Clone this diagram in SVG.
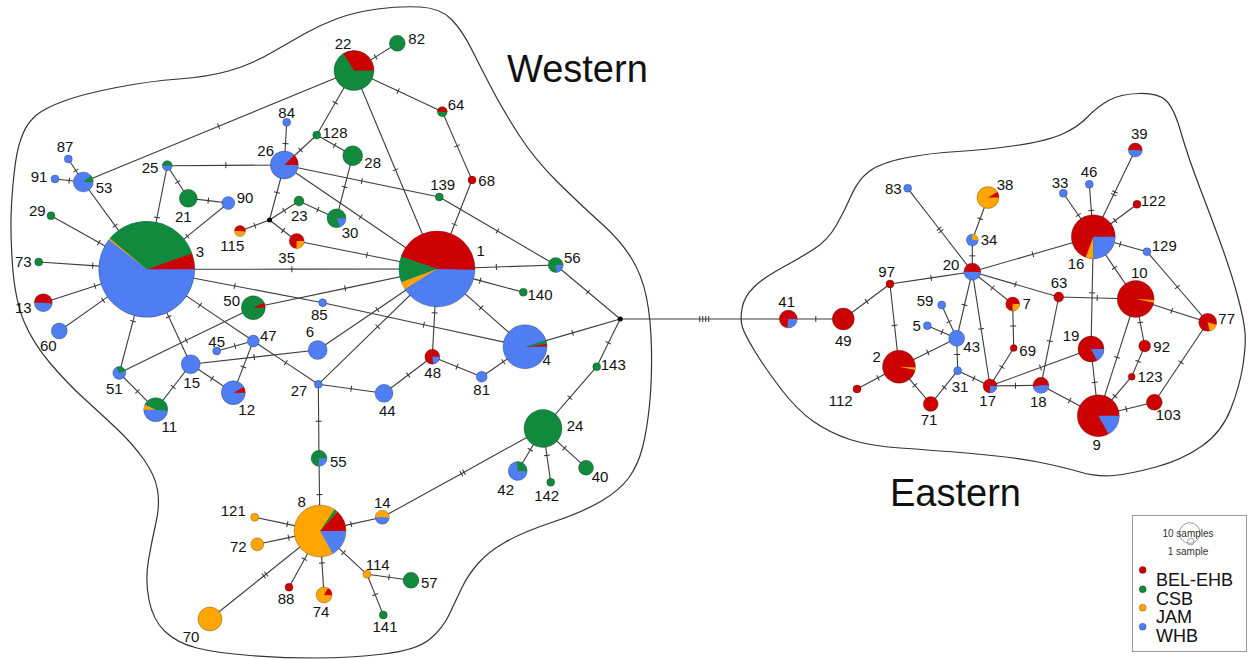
<svg xmlns="http://www.w3.org/2000/svg" width="1249" height="659" viewBox="0 0 1249 659">
<style>
.bd{fill:none;stroke:#333;stroke-width:1.2}
.e{fill:none;stroke:#3c3c3c;stroke-width:1.1;marker-mid:url(#t1)}
.e2{marker-mid:url(#t2)}
.e4{marker-mid:url(#t4)}
.R{fill:#cc0000}.G{fill:#118a3d}.O{fill:#ffa500}.B{fill:#4f7df2}.K{fill:#000}
circle.R,circle.G,circle.O,circle.B{stroke:#000;stroke-opacity:.35;stroke-width:.7}
.wR{fill:none;stroke:#cc0000}.wG{fill:none;stroke:#118a3d}.wO{fill:none;stroke:#ffa500}.wB{fill:none;stroke:#4f7df2}
text{font-family:"Liberation Sans",Arial,sans-serif;fill:#111}
.l{font-size:15px;text-anchor:middle}
.reg{font-size:38px}
.lg{font-size:18px}
.ls{font-size:10px;text-anchor:middle;fill:#333}
</style>
<defs>
<marker id="t1" viewBox="-6 -6 12 12" markerWidth="12" markerHeight="12" markerUnits="userSpaceOnUse" orient="auto"><path d="M0,-3V3" stroke="#333" stroke-width="1"/></marker>
<marker id="t2" viewBox="-6 -6 12 12" markerWidth="12" markerHeight="12" markerUnits="userSpaceOnUse" orient="auto"><path d="M-1.5,-3V3M1.5,-3V3" stroke="#333" stroke-width="1"/></marker>
<marker id="t4" viewBox="-8 -8 16 16" markerWidth="16" markerHeight="16" markerUnits="userSpaceOnUse" orient="auto"><path d="M-4.5,-3V3M-1.5,-3V3M1.5,-3V3M4.5,-3V3" stroke="#333" stroke-width="1"/></marker>
</defs>
<rect width="1249" height="659" fill="#fff"/>
<g id="regions">
<path class="bd" d="M 451,19 Q 462,30 472,50 Q 482,70 492.5,90 Q 503,110 519,135 Q 535,160 559,183.5 Q 583,207 601.5,223.5 Q 620,240 631,257.5 Q 642,275 646.5,297.5 Q 651,320 651.5,350 Q 652,380 649.5,405 Q 647,430 642.5,447.5 Q 638,465 629,477.5 Q 620,490 601.5,501 Q 583,512 553,522 Q 523,532 505.5,542 Q 488,552 478,563.5 Q 468,575 462,587.5 Q 456,600 449.5,614 Q 443,628 430,639 Q 417,650 383.5,654 Q 350,658 316.5,658 Q 283,658 250,655.5 Q 217,653 197,648 Q 177,643 165,631.5 Q 153,620 149,600 Q 145,580 148.5,560 Q 152,540 156,522.5 Q 160,505 157.5,490 Q 155,475 143.5,459 Q 132,443 116,428 Q 100,413 83.5,398 Q 67,383 50,363 Q 33,343 24,321.5 Q 15,300 12.5,265 Q 10,230 11.5,205 Q 13,180 15.5,162.5 Q 18,145 23,133.5 Q 28,122 36.5,115 Q 45,108 64,101 Q 83,94 116.5,87.5 Q 150,81 178.5,79 Q 207,77 228.5,71 Q 250,65 270,53.5 Q 290,42 305,33.5 Q 320,25 337.5,18.5 Q 355,12 377.5,9 Q 400,6 420,7 Q 440,8 451,19 Z"/>
<path class="bd" d="M 742,308.5 Q 744,297 753.5,287.5 Q 763,278 781.5,268 Q 800,258 814,249 Q 828,240 836.5,225 Q 845,210 851.5,195 Q 858,180 869,171.5 Q 880,163 905,158 Q 930,153 957.5,151.5 Q 985,150 1016,145.5 Q 1047,141 1062.5,134 Q 1078,127 1087.5,117 Q 1097,107 1108.5,100.5 Q 1120,94 1139,93.5 Q 1158,93 1166,100.5 Q 1174,108 1181,132.5 Q 1188,157 1200.5,189.5 Q 1213,222 1222.5,248.5 Q 1232,275 1238,297.5 Q 1244,320 1245,332.5 Q 1246,345 1243,365 Q 1240,385 1231,408.5 Q 1222,432 1202,446 Q 1182,460 1156,467 Q 1130,474 1113.5,475.5 Q 1097,477 1080,472 Q 1063,467 1038,462 Q 1013,457 971.5,453.5 Q 930,450 900,448 Q 870,446 850,439.5 Q 830,433 813.5,421.5 Q 797,410 781,389 Q 765,368 755,351.5 Q 745,335 742.5,327.5 Q 740,320 742,308.5 Z"/>
<text class="reg" x="507" y="82">Western</text>
<text class="reg" x="890" y="506">Eastern</text>
</g>
<g id="connectors">
<path class="e" d="M354,70.5L375.65,56.9L397.3,43.3"/>
<path class="e" d="M354,70.5L218.65,126.25L83.3,182"/>
<path class="e" d="M354,70.5L398.15,91.1L442.3,111.7"/>
<path class="e" d="M354,70.5L335.35,102.75L316.7,135"/>
<path class="e" d="M354,70.5L395.5,169.75L437,269"/>
<path class="e" d="M442.3,111.7L457.15,145.85L472,180"/>
<path class="e" d="M472,180L454.5,224.5L437,269"/>
<path class="e" d="M316.7,135L300.5,150L284.3,165"/>
<path class="e" d="M316.7,135L334.7,145.35L352.7,155.7"/>
<path class="e" d="M352.7,155.7L344.6,187L336.5,218.3"/>
<path class="e" d="M284.3,165L285.5,143.65L286.7,122.3"/>
<path class="e" d="M284.3,165L225.8,165.35L167.3,165.7"/>
<path class="e" d="M284.3,165L276.9,192.5L269.5,220"/>
<path class="e" d="M284.3,165L361.8,181L439.3,197"/>
<path class="e" d="M284.3,165L360.65,217L437,269"/>
<path class="e" d="M439.3,197L497.5,231L555.7,265"/>
<path class="e" d="M167.3,165.7L157,217.5L146.7,269.3"/>
<path class="e" d="M167.3,165.7L177.8,182L188.3,198.3"/>
<path class="e" d="M188.3,198.3L208.3,200.65L228.3,203"/>
<path class="e" d="M228.3,203L187.5,236.15L146.7,269.3"/>
<path class="e" d="M68.3,159L75.8,170.5L83.3,182"/>
<path class="e" d="M55,179L69.15,180.5L83.3,182"/>
<path class="e" d="M83.3,182L115,225.65L146.7,269.3"/>
<path class="e" d="M51,215.7L98.85,242.5L146.7,269.3"/>
<path class="e" d="M38.7,262L92.7,265.65L146.7,269.3"/>
<path class="e" d="M43.3,302.7L95,286L146.7,269.3"/>
<path class="e" d="M59.3,331L103,300.15L146.7,269.3"/>
<path class="e" d="M119.3,373L133,321.15L146.7,269.3"/>
<path class="e" d="M190.7,364.3L168.7,316.8L146.7,269.3"/>
<path class="e" d="M146.7,269.3L200,305.15L253.3,341"/>
<path class="e" d="M146.7,269.3L291.85,269.15L437,269"/>
<path class="e" d="M146.7,269.3L234.7,286L322.7,302.7"/>
<path class="e" d="M322.7,302.7L423.85,324.7L525,346.7"/>
<path class="e" d="M253.3,307.7L186.3,340.35L119.3,373"/>
<path class="e" d="M253.3,307.7L345.15,288.35L437,269"/>
<path class="e" d="M119.3,373L137.5,391.35L155.7,409.7"/>
<path class="e" d="M155.7,409.7L173.2,387L190.7,364.3"/>
<path class="e" d="M190.7,364.3L212,378.5L233.3,392.7"/>
<path class="e" d="M190.7,364.3L254.2,357.15L317.7,350"/>
<path class="e" d="M216.7,351L235,346L253.3,341"/>
<path class="e" d="M253.3,341L243.3,366.85L233.3,392.7"/>
<path class="e" d="M253.3,341L285.8,362.65L318.3,384.3"/>
<path class="e" d="M317.7,350L377.35,309.5L437,269"/>
<path class="e" d="M318.3,384.3L377.65,326.65L437,269"/>
<path class="e" d="M318.3,384.3L351.15,388.8L384,393.3"/>
<path class="e" d="M384,393.3L408.15,375L432.3,356.7"/>
<path class="e" d="M432.3,356.7L434.65,312.85L437,269"/>
<path class="e" d="M432.3,356.7L457,366.7L481.7,376.7"/>
<path class="e" d="M481.7,376.7L503.35,361.7L525,346.7"/>
<path class="e" d="M318.3,384.3L318.65,421.3L319,458.3"/>
<path class="e" d="M319,458.3L319.5,494.65L320,531"/>
<path class="e" d="M437,269L496.35,267L555.7,265"/>
<path class="e" d="M437,269L480.15,280.65L523.3,292.3"/>
<path class="e" d="M437,269L481,307.85L525,346.7"/>
<path class="e" d="M296.7,241L366.85,255L437,269"/>
<path class="e" d="M269.5,220L254.75,225.5L240,231"/>
<path class="e" d="M269.5,220L284.25,210.5L299,201"/>
<path class="e" d="M269.5,220L283.1,230.5L296.7,241"/>
<path class="e" d="M299,201L317.75,209.65L336.5,218.3"/>
<path class="e" d="M555.7,265L587.95,292L620.2,319"/>
<path class="e" d="M620.2,319L572.6,332.85L525,346.7"/>
<path class="e" d="M620.2,319L608.45,342.85L596.7,366.7"/>
<path class="e" d="M596.7,366.7L569.85,397.6L543,428.5"/>
<path class="e e4" d="M620.2,319L704.25,319L788.3,319"/>
<path class="e e2" d="M543,428.5L462.65,472.9L382.3,517.3"/>
<path class="e" d="M543,428.5L530.35,449.75L517.7,471"/>
<path class="e" d="M543,428.5L546.85,455.4L550.7,482.3"/>
<path class="e" d="M543,428.5L564.5,448.1L586,467.7"/>
<path class="e" d="M320,531L287.35,524.15L254.7,517.3"/>
<path class="e" d="M320,531L288.65,537.65L257.3,544.3"/>
<path class="e" d="M320,531L351.15,524.15L382.3,517.3"/>
<path class="e" d="M320,531L304.5,559.15L289,587.3"/>
<path class="e" d="M320,531L322,563L324,595"/>
<path class="e" d="M320,531L343.5,552.65L367,574.3"/>
<path class="e e2" d="M320,531L265,575L210,619"/>
<path class="e" d="M367,574.3L389,577.3L411,580.3"/>
<path class="e" d="M367,574.3L375.15,594.65L383.3,615"/>
<path class="e" d="M788.3,319L815.8,319L843.3,319"/>
<path class="e" d="M843.3,319L866.65,301.5L890,284"/>
<path class="e" d="M890,284L931.15,277.85L972.3,271.7"/>
<path class="e" d="M890,284L894.5,325.35L899,366.7"/>
<path class="e e2" d="M907.7,188.3L940,230L972.3,271.7"/>
<path class="e" d="M972.3,271.7L972.3,255.85L972.3,240"/>
<path class="e" d="M972.3,240L980.15,218.75L988,197.5"/>
<path class="e" d="M972.3,271.7L1032.8,254.2L1093.3,236.7"/>
<path class="e" d="M972.3,271.7L992.5,287.85L1012.7,304"/>
<path class="e" d="M972.3,271.7L1015.5,284.35L1058.7,297"/>
<path class="e" d="M972.3,271.7L964.5,305L956.7,338.3"/>
<path class="e" d="M972.3,271.7L981.15,328.85L990,386"/>
<path class="e" d="M956.7,338.3L949.2,321.65L941.7,305"/>
<path class="e" d="M956.7,338.3L942,332L927.3,325.7"/>
<path class="e" d="M956.7,338.3L927.85,352.5L899,366.7"/>
<path class="e" d="M956.7,338.3L957.2,354.5L957.7,370.7"/>
<path class="e" d="M957.7,370.7L944.2,387.35L930.7,404"/>
<path class="e" d="M957.7,370.7L973.85,378.35L990,386"/>
<path class="e" d="M899,366.7L878,377.85L857,389"/>
<path class="e" d="M899,366.7L914.85,385.35L930.7,404"/>
<path class="e" d="M1012.7,304L1013.2,326L1013.7,348"/>
<path class="e" d="M1013.7,348L1001.85,367L990,386"/>
<path class="e" d="M990,386L1015.5,385.65L1041,385.3"/>
<path class="e" d="M990,386L1040.5,367.5L1091,349"/>
<path class="e" d="M1041,385.3L1049.85,341.15L1058.7,297"/>
<path class="e" d="M1041,385.3L1069.65,400.5L1098.3,415.7"/>
<path class="e" d="M1058.7,297L1097.2,298L1135.7,299"/>
<path class="e" d="M1093.3,236.7L1078.3,215L1063.3,193.3"/>
<path class="e" d="M1093.3,236.7L1091.3,210.5L1089.3,184.3"/>
<path class="e e2" d="M1093.3,236.7L1114.3,193.35L1135.3,150"/>
<path class="e" d="M1093.3,236.7L1115.15,220.5L1137,204.3"/>
<path class="e" d="M1093.3,236.7L1120.15,244.2L1147,251.7"/>
<path class="e" d="M1093.3,236.7L1114.5,267.85L1135.7,299"/>
<path class="e" d="M1093.3,236.7L1092.15,292.85L1091,349"/>
<path class="e" d="M1147,251.7L1177.35,287L1207.7,322.3"/>
<path class="e" d="M1135.7,299L1171.7,310.65L1207.7,322.3"/>
<path class="e" d="M1135.7,299L1140.2,322.5L1144.7,346"/>
<path class="e" d="M1135.7,299L1117,357.35L1098.3,415.7"/>
<path class="e" d="M1144.7,346L1138.2,361.35L1131.7,376.7"/>
<path class="e" d="M1131.7,376.7L1115,396.2L1098.3,415.7"/>
<path class="e" d="M1098.3,415.7L1126.3,409L1154.3,402.3"/>
<path class="e" d="M1154.3,402.3L1181,362.3L1207.7,322.3"/>
<path class="e" d="M1091,349L1094.65,382.35L1098.3,415.7"/>
</g>
<g id="nodes">
<g id="n1"><circle cx="437" cy="269" r="38" class="B"/><circle cx="437" cy="269" r="19" stroke-width="38" stroke-dasharray="53.39 999" transform="rotate(-161 437 269)" class="wR"/><circle cx="437" cy="269" r="19" stroke-width="38" stroke-dasharray="12.93 999" transform="rotate(-200 437 269)" class="wG"/><circle cx="437" cy="269" r="19" stroke-width="38" stroke-dasharray="3.98 999" transform="rotate(-212 437 269)" class="wO"/><text class="l" x="480.7" y="255.5">1</text></g>
<g id="n3"><circle cx="146.7" cy="269.3" r="48" class="B"/><circle cx="146.7" cy="269.3" r="24" stroke-width="48" stroke-dasharray="8.38 999" transform="rotate(-20 146.7 269.3)" class="wR"/><circle cx="146.7" cy="269.3" r="24" stroke-width="48" stroke-dasharray="50.27 999" transform="rotate(-140 146.7 269.3)" class="wG"/><circle cx="146.7" cy="269.3" r="24" stroke-width="48" stroke-dasharray="0.84 999" transform="rotate(-142 146.7 269.3)" class="wO"/><text class="l" x="200" y="257.2">3</text></g>
<g id="n22"><circle cx="354" cy="70.5" r="20" class="G"/><circle cx="354" cy="70.5" r="10" stroke-width="20" stroke-dasharray="21.29 999" transform="rotate(-122 354 70.5)" class="wR"/><text class="l" x="343" y="48.5">22</text></g>
<g id="n4"><circle cx="525" cy="346.7" r="22" class="B"/><circle cx="525" cy="346.7" r="11" stroke-width="22" stroke-dasharray="1.54 999" transform="rotate(-8 525 346.7)" class="wR"/><circle cx="525" cy="346.7" r="11" stroke-width="22" stroke-dasharray="1.92 999" transform="rotate(-18 525 346.7)" class="wG"/><text class="l" x="546.7" y="364.8">4</text></g>
<g id="n8"><circle cx="320" cy="531" r="26" class="O"/><circle cx="320" cy="531" r="13" stroke-width="26" stroke-dasharray="10.89 999" transform="rotate(-48 320 531)" class="wR"/><circle cx="320" cy="531" r="13" stroke-width="26" stroke-dasharray="1.82 999" transform="rotate(-56 320 531)" class="wG"/><circle cx="320" cy="531" r="13" stroke-width="26" stroke-dasharray="13.61 999" class="wB"/><text class="l" x="301.7" y="506.5">8</text></g>
<g id="n24"><circle cx="543" cy="428.5" r="19" class="G"/><text class="l" x="575" y="431.2">24</text></g>
<g id="n11"><circle cx="155.7" cy="409.7" r="12" class="B"/><circle cx="155.7" cy="409.7" r="6" stroke-width="12" stroke-dasharray="16.23 999" transform="rotate(-155 155.7 409.7)" class="wG"/><circle cx="155.7" cy="409.7" r="6" stroke-width="12" stroke-dasharray="2.62 999" transform="rotate(-180 155.7 409.7)" class="wO"/><text class="l" x="169.3" y="431.5">11</text></g>
<g id="n12"><circle cx="233.3" cy="392.7" r="12" class="B"/><circle cx="233.3" cy="392.7" r="6" stroke-width="12" stroke-dasharray="2.93 999" transform="rotate(-28 233.3 392.7)" class="wR"/><text class="l" x="246.7" y="414.8">12</text></g>
<g id="n13"><circle cx="43.3" cy="302.7" r="9" class="B"/><circle cx="43.3" cy="302.7" r="4.5" stroke-width="9" stroke-dasharray="14.14 999" transform="rotate(-180 43.3 302.7)" class="wR"/><text class="l" x="23.3" y="312.8">13</text></g>
<g id="n15"><circle cx="190.7" cy="364.3" r="9.5" class="B"/><text class="l" x="191.7" y="388.2">15</text></g>
<g id="n47"><circle cx="253.3" cy="341" r="6" class="B"/><text class="l" x="268.3" y="340.5">47</text></g>
<g id="n45"><circle cx="216.7" cy="351" r="4" class="B"/><text class="l" x="216.7" y="346.5">45</text></g>
<g id="n50"><circle cx="253.3" cy="307.7" r="12" class="G"/><circle cx="253.3" cy="307.7" r="6" stroke-width="12" stroke-dasharray="2.62 999" transform="rotate(-25 253.3 307.7)" class="wR"/><text class="l" x="231.7" y="306.2">50</text></g>
<g id="n51"><circle cx="119.3" cy="373" r="6.5" class="B"/><circle cx="119.3" cy="373" r="3.25" stroke-width="6.5" stroke-dasharray="5.67 999" transform="rotate(-120 119.3 373)" class="wG"/><text class="l" x="114.3" y="393.8">51</text></g>
<g id="n60"><circle cx="59.3" cy="331" r="8" class="B"/><text class="l" x="48.3" y="350.5">60</text></g>
<g id="n73"><circle cx="38.7" cy="262" r="4" class="G"/><text class="l" x="23.3" y="267.2">73</text></g>
<g id="n29"><circle cx="51" cy="215.7" r="4" class="G"/><text class="l" x="37.3" y="215.5">29</text></g>
<g id="n53"><circle cx="83.3" cy="182" r="10" class="B"/><circle cx="83.3" cy="182" r="5" stroke-width="10" stroke-dasharray="3.49 999" transform="rotate(-40 83.3 182)" class="wG"/><text class="l" x="104" y="192.5">53</text></g>
<g id="n87"><circle cx="68.3" cy="159" r="4" class="B"/><text class="l" x="65" y="151.5">87</text></g>
<g id="n91"><circle cx="55" cy="179" r="4" class="B"/><text class="l" x="39" y="181.5">91</text></g>
<g id="n25"><circle cx="167.3" cy="165.7" r="5" class="B"/><circle cx="167.3" cy="165.7" r="2.5" stroke-width="5" stroke-dasharray="7.85 999" transform="rotate(-180 167.3 165.7)" class="wG"/><text class="l" x="150" y="172.5">25</text></g>
<g id="n21"><circle cx="188.3" cy="198.3" r="9" class="G"/><text class="l" x="183.3" y="221.5">21</text></g>
<g id="n90"><circle cx="228.3" cy="203" r="6.5" class="B"/><text class="l" x="245" y="202.5">90</text></g>
<g id="n26"><circle cx="284.3" cy="165" r="14" class="B"/><circle cx="284.3" cy="165" r="7" stroke-width="14" stroke-dasharray="5.5 999" transform="rotate(-45 284.3 165)" class="wR"/><text class="l" x="265.7" y="156.2">26</text></g>
<g id="n84"><circle cx="286.7" cy="122.3" r="4" class="B"/><text class="l" x="286.7" y="117.5">84</text></g>
<g id="n128"><circle cx="316.7" cy="135" r="4" class="G"/><text class="l" x="335" y="137.5">128</text></g>
<g id="n28"><circle cx="352.7" cy="155.7" r="10" class="G"/><text class="l" x="372.7" y="167.5">28</text></g>
<g id="n82"><circle cx="397.3" cy="43.3" r="8" class="G"/><text class="l" x="416.7" y="43.8">82</text></g>
<g id="n64"><circle cx="442.3" cy="111.7" r="5" class="G"/><circle cx="442.3" cy="111.7" r="2.5" stroke-width="5" stroke-dasharray="7.85 999" transform="rotate(-180 442.3 111.7)" class="wR"/><text class="l" x="456" y="109.5">64</text></g>
<g id="n68"><circle cx="472" cy="180" r="4" class="R"/><text class="l" x="486.7" y="185.5">68</text></g>
<g id="n139"><circle cx="439.3" cy="197" r="4" class="G"/><text class="l" x="442.7" y="189.5">139</text></g>
<g id="n30"><circle cx="336.5" cy="218.3" r="9.5" class="G"/><circle cx="336.5" cy="218.3" r="4.75" stroke-width="9.5" stroke-dasharray="5.39 999" class="wB"/><text class="l" x="350" y="238.2">30</text></g>
<g id="n23"><circle cx="299" cy="201" r="5" class="G"/><text class="l" x="299.3" y="220.5">23</text></g>
<g id="jA"><circle cx="269.5" cy="220" r="2.5" class="K"/></g>
<g id="n115"><circle cx="240" cy="231" r="5.5" class="O"/><circle cx="240" cy="231" r="2.75" stroke-width="5.5" stroke-dasharray="8.64 999" transform="rotate(-180 240 231)" class="wR"/><text class="l" x="232.3" y="250.5">115</text></g>
<g id="n35"><circle cx="296.7" cy="241" r="7.5" class="R"/><circle cx="296.7" cy="241" r="3.75" stroke-width="7.5" stroke-dasharray="5.89 999" class="wO"/><text class="l" x="286.7" y="262.8">35</text></g>
<g id="n85"><circle cx="322.7" cy="302.7" r="4" class="B"/><text class="l" x="319.3" y="319.5">85</text></g>
<g id="n6"><circle cx="317.7" cy="350" r="9.5" class="B"/><text class="l" x="310" y="337.2">6</text></g>
<g id="n27"><circle cx="318.3" cy="384.3" r="4" class="B"/><text class="l" x="299" y="395.5">27</text></g>
<g id="n44"><circle cx="384" cy="393.3" r="9" class="B"/><text class="l" x="387.3" y="416.2">44</text></g>
<g id="n48"><circle cx="432.3" cy="356.7" r="7.5" class="R"/><circle cx="432.3" cy="356.7" r="3.75" stroke-width="7.5" stroke-dasharray="5.24 999" class="wB"/><text class="l" x="432.7" y="377.8">48</text></g>
<g id="n81"><circle cx="481.7" cy="376.7" r="5.5" class="B"/><text class="l" x="481.7" y="394.5">81</text></g>
<g id="n56"><circle cx="555.7" cy="265" r="7.5" class="G"/><circle cx="555.7" cy="265" r="3.75" stroke-width="7.5" stroke-dasharray="5.24 999" class="wB"/><text class="l" x="572.3" y="262.8">56</text></g>
<g id="n140"><circle cx="523.3" cy="292.3" r="4" class="G"/><text class="l" x="540" y="299.5">140</text></g>
<g id="jB"><circle cx="620.2" cy="319" r="2.5" class="K"/></g>
<g id="n143"><circle cx="596.7" cy="366.7" r="4" class="G"/><text class="l" x="613.3" y="369.8">143</text></g>
<g id="n55"><circle cx="319" cy="458.3" r="8" class="G"/><circle cx="319" cy="458.3" r="4" stroke-width="8" stroke-dasharray="6.28 999" class="wB"/><text class="l" x="338.3" y="467.2">55</text></g>
<g id="n14"><circle cx="382.3" cy="517.3" r="7" class="B"/><circle cx="382.3" cy="517.3" r="3.5" stroke-width="7" stroke-dasharray="11 999" transform="rotate(-180 382.3 517.3)" class="wO"/><text class="l" x="382.3" y="507.8">14</text></g>
<g id="n121"><circle cx="254.7" cy="517.3" r="4" class="O"/><text class="l" x="233.3" y="515.5">121</text></g>
<g id="n72"><circle cx="257.3" cy="544.3" r="6.5" class="O"/><text class="l" x="238.3" y="552.2">72</text></g>
<g id="n88"><circle cx="289" cy="587.3" r="4" class="R"/><text class="l" x="286" y="603.8">88</text></g>
<g id="n74"><circle cx="324" cy="595" r="8" class="O"/><circle cx="324" cy="595" r="4" stroke-width="8" stroke-dasharray="4.19 999" transform="rotate(-60 324 595)" class="wR"/><text class="l" x="321" y="617.2">74</text></g>
<g id="n70"><circle cx="210" cy="619" r="12" class="O"/><text class="l" x="191" y="642.2">70</text></g>
<g id="n114"><circle cx="367" cy="574.3" r="4" class="O"/><text class="l" x="377.7" y="569.8">114</text></g>
<g id="n57"><circle cx="411" cy="580.3" r="8" class="G"/><text class="l" x="429.3" y="587.8">57</text></g>
<g id="n141"><circle cx="383.3" cy="615" r="4" class="G"/><text class="l" x="385" y="632.2">141</text></g>
<g id="n42"><circle cx="517.7" cy="471" r="9.5" class="B"/><circle cx="517.7" cy="471" r="4.75" stroke-width="9.5" stroke-dasharray="7.88 999" transform="rotate(-95 517.7 471)" class="wG"/><text class="l" x="505.7" y="494.8">42</text></g>
<g id="n142"><circle cx="550.7" cy="482.3" r="4" class="G"/><text class="l" x="546.7" y="501.2">142</text></g>
<g id="n40"><circle cx="586" cy="467.7" r="7.5" class="G"/><text class="l" x="600" y="482.2">40</text></g>
<g id="n41"><circle cx="788.3" cy="319" r="9" class="R"/><circle cx="788.3" cy="319" r="4.5" stroke-width="9" stroke-dasharray="7.46 999" class="wB"/><text class="l" x="786.7" y="307.2">41</text></g>
<g id="n49"><circle cx="843.3" cy="319" r="11" class="R"/><text class="l" x="843.3" y="345.5">49</text></g>
<g id="n2"><circle cx="899" cy="366.7" r="16.5" class="R"/><circle cx="899" cy="366.7" r="8.25" stroke-width="16.5" stroke-dasharray="1.3 999" transform="rotate(-357 899 366.7)" class="wO"/><text class="l" x="876.7" y="361.5">2</text></g>
<g id="n112"><circle cx="857" cy="389" r="4" class="R"/><text class="l" x="840.7" y="405.5">112</text></g>
<g id="n71"><circle cx="930.7" cy="404" r="7.5" class="R"/><text class="l" x="929" y="424.5">71</text></g>
<g id="n43"><circle cx="956.7" cy="338.3" r="8" class="B"/><text class="l" x="971.7" y="352.2">43</text></g>
<g id="n5"><circle cx="927.3" cy="325.7" r="4" class="B"/><text class="l" x="916.7" y="330.5">5</text></g>
<g id="n59"><circle cx="941.7" cy="305" r="4" class="B"/><text class="l" x="925" y="305.5">59</text></g>
<g id="n31"><circle cx="957.7" cy="370.7" r="4" class="B"/><text class="l" x="960" y="391.5">31</text></g>
<g id="n17"><circle cx="990" cy="386" r="7" class="R"/><circle cx="990" cy="386" r="3.5" stroke-width="7" stroke-dasharray="5.5 999" class="wB"/><text class="l" x="987.7" y="406.2">17</text></g>
<g id="n97"><circle cx="890" cy="284" r="4" class="R"/><text class="l" x="886.7" y="277.2">97</text></g>
<g id="n83"><circle cx="907.7" cy="188.3" r="4" class="B"/><text class="l" x="893.3" y="193.8">83</text></g>
<g id="n20"><circle cx="972.3" cy="271.7" r="8.5" class="B"/><circle cx="972.3" cy="271.7" r="4.25" stroke-width="8.5" stroke-dasharray="13.35 999" transform="rotate(-180 972.3 271.7)" class="wR"/><text class="l" x="951" y="269.5">20</text></g>
<g id="n34"><circle cx="972.3" cy="240" r="6" class="B"/><circle cx="972.3" cy="240" r="3" stroke-width="6" stroke-dasharray="4.71 999" transform="rotate(-90 972.3 240)" class="wO"/><text class="l" x="989" y="244.5">34</text></g>
<g id="n38"><circle cx="988" cy="197.5" r="11" class="O"/><circle cx="988" cy="197.5" r="5.5" stroke-width="11" stroke-dasharray="2.88 999" transform="rotate(-30 988 197.5)" class="wR"/><text class="l" x="1005" y="189.5">38</text></g>
<g id="n7"><circle cx="1012.7" cy="304" r="7" class="R"/><circle cx="1012.7" cy="304" r="3.5" stroke-width="7" stroke-dasharray="5.5 999" class="wO"/><text class="l" x="1026.7" y="308.8">7</text></g>
<g id="n63"><circle cx="1058.7" cy="297" r="5" class="R"/><text class="l" x="1059" y="288.2">63</text></g>
<g id="n16"><circle cx="1093.3" cy="236.7" r="22" class="R"/><circle cx="1093.3" cy="236.7" r="11" stroke-width="22" stroke-dasharray="3.84 999" transform="rotate(-270 1093.3 236.7)" class="wO"/><circle cx="1093.3" cy="236.7" r="11" stroke-width="22" stroke-dasharray="17.28 999" class="wB"/><text class="l" x="1076" y="268.8">16</text></g>
<g id="n33"><circle cx="1063.3" cy="193.3" r="4" class="B"/><text class="l" x="1060" y="187.8">33</text></g>
<g id="n46"><circle cx="1089.3" cy="184.3" r="4" class="B"/><text class="l" x="1089" y="177.2">46</text></g>
<g id="n39"><circle cx="1135.3" cy="150" r="7" class="B"/><circle cx="1135.3" cy="150" r="3.5" stroke-width="7" stroke-dasharray="11 999" transform="rotate(-180 1135.3 150)" class="wR"/><text class="l" x="1139.3" y="138.8">39</text></g>
<g id="n122"><circle cx="1137" cy="204.3" r="4" class="R"/><text class="l" x="1153.3" y="206.2">122</text></g>
<g id="n129"><circle cx="1147" cy="251.7" r="4" class="B"/><text class="l" x="1164.3" y="251.2">129</text></g>
<g id="n10"><circle cx="1135.7" cy="299" r="18.5" class="R"/><circle cx="1135.7" cy="299" r="9.25" stroke-width="18.5" stroke-dasharray="1.45 999" transform="rotate(-357 1135.7 299)" class="wO"/><text class="l" x="1139.3" y="278.2">10</text></g>
<g id="n77"><circle cx="1207.7" cy="322.3" r="9" class="R"/><circle cx="1207.7" cy="322.3" r="4.5" stroke-width="9" stroke-dasharray="4.71 999" transform="rotate(-345 1207.7 322.3)" class="wO"/><text class="l" x="1226.7" y="323.8">77</text></g>
<g id="n19"><circle cx="1091" cy="349" r="13" class="R"/><circle cx="1091" cy="349" r="6.5" stroke-width="13" stroke-dasharray="6.81 999" class="wB"/><text class="l" x="1071" y="340.5">19</text></g>
<g id="n69"><circle cx="1013.7" cy="348" r="3.5" class="R"/><text class="l" x="1027.7" y="356.2">69</text></g>
<g id="n18"><circle cx="1041" cy="385.3" r="8" class="R"/><circle cx="1041" cy="385.3" r="4" stroke-width="8" stroke-dasharray="11.52 999" class="wB"/><text class="l" x="1038.3" y="407.2">18</text></g>
<g id="n92"><circle cx="1144.7" cy="346" r="6" class="R"/><text class="l" x="1161.7" y="351.5">92</text></g>
<g id="n123"><circle cx="1131.7" cy="376.7" r="3.5" class="R"/><text class="l" x="1150" y="382.2">123</text></g>
<g id="n103"><circle cx="1154.3" cy="402.3" r="8" class="R"/><text class="l" x="1168.3" y="419.8">103</text></g>
<g id="n9"><circle cx="1098.3" cy="415.7" r="21" class="R"/><circle cx="1098.3" cy="415.7" r="10.5" stroke-width="21" stroke-dasharray="11 999" class="wB"/><text class="l" x="1096.7" y="449.5">9</text></g>
</g>
<g id="legend">
<rect x="1132.5" y="515.5" width="114" height="136" fill="#fff" stroke="#999" stroke-width="1"/>
<circle cx="1189.7" cy="533" r="10.3" fill="none" stroke="#999" stroke-width="1"/>
<circle cx="1190.7" cy="541.7" r="3.3" fill="none" stroke="#999" stroke-width="1"/>
<text class="ls" x="1188" y="536.5">10 samples</text>
<text class="ls" x="1188" y="555">1 sample</text>
<circle cx="1142.7" cy="570" r="3.5" class="R"/><text class="lg" x="1156" y="586">BEL-EHB</text>
<circle cx="1142.7" cy="589.3" r="3.5" class="G"/><text class="lg" x="1156" y="605">CSB</text>
<circle cx="1142.7" cy="607.7" r="3.5" class="O"/><text class="lg" x="1156" y="623.3">JAM</text>
<circle cx="1142.7" cy="626.7" r="3.5" class="B"/><text class="lg" x="1156" y="641.7">WHB</text>
</g>
</svg>
